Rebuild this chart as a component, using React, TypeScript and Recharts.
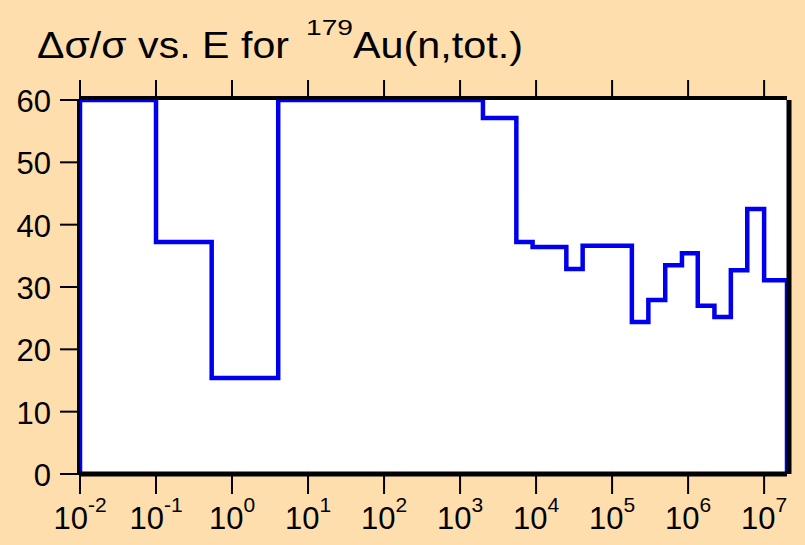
import { LineChart, Line, XAxis, YAxis, CartesianGrid } from "recharts"

// bin edges (eV) and relative uncertainty (%)
const energies = [
  0.01, 0.01, 0.1, 0.54, 4.05, 2000, 3250, 5500, 9000, 14500, 25000, 41000, 70000, 110000,
  182000, 300000, 500000, 830000, 1340000, 2220000, 3650000, 6000000, 10000000, 20000000,
]
const values = [
  0, 60, 37.2, 15.4, 60, 57.1, 57.1, 37.2, 36.4, 36.4, 32.9, 36.6, 36.6, 36.6,
  24.4, 27.9, 33.5, 35.4, 27.0, 25.2, 32.7, 42.5, 31.1, 0,
]
const xTicks = [1e-2, 1e-1, 1e0, 1e1, 1e2, 1e3, 1e4, 1e5, 1e6, 1e7]
const yTicks = [0, 10, 20, 30, 40, 50, 60]

const data = energies.map((e, i) => ({ e, v: values[i] }))

const FONT = "'Liberation Sans', Arial, Helvetica, sans-serif"
const BG = "#FFDEAD"

function XTick({ x, payload }: any) {
  const exp = Math.round(Math.log10(payload.value))
  return (
    <text x={x} y={529} textAnchor="middle" fontSize={31} fontFamily={FONT} fill="#000">
      10
      <tspan dy={-17} fontSize={21}>
        {exp}
      </tspan>
    </text>
  )
}

function YTick({ y, payload }: any) {
  return (
    <text x={51} y={y + 12} textAnchor="end" fontSize={31} fontFamily={FONT} fill="#000">
      {payload.value}
    </text>
  )
}

const noLabel = () => <g />
const tickStyle = { stroke: "#000", strokeWidth: 2 }

export default function App() {
  return (
    <div style={{ position: "relative", width: 805, height: 545, background: BG }}>
      <style>{`body{margin:0}`}</style>
      <LineChart width={805} height={545} data={data} margin={{ top: 0, right: 0, bottom: 0, left: 0 }}>
        <CartesianGrid horizontal={false} vertical={false} fill="#ffffff" fillOpacity={1} stroke="none" />
        <XAxis
          dataKey="e"
          type="number"
          scale="log"
          domain={[0.01, 2e7]}
          allowDataOverflow
          ticks={xTicks}
          interval={0}
          height={71}
          tickSize={20}
          tick={<XTick />}
          axisLine={{ stroke: "#000", strokeWidth: 5 }}
          tickLine={tickStyle}
        />
        <XAxis
          xAxisId="top"
          orientation="top"
          dataKey="e"
          type="number"
          scale="log"
          domain={[0.01, 2e7]}
          allowDataOverflow
          ticks={xTicks}
          interval={0}
          height={100}
          tickSize={20}
          tick={noLabel}
          axisLine={{ stroke: "#000", strokeWidth: 4, transform: "translate(0,-2)" }}
          tickLine={tickStyle}
        />
        <YAxis
          type="number"
          domain={[0, 60]}
          ticks={yTicks}
          interval={0}
          width={80}
          tickSize={20}
          tick={<YTick />}
          axisLine={{ stroke: "#000", strokeWidth: 3, transform: "translate(-1.5,0)" }}
          tickLine={tickStyle}
        />
        <YAxis
          yAxisId="right"
          orientation="right"
          type="number"
          domain={[0, 60]}
          ticks={yTicks}
          interval={0}
          width={18}
          tickSize={20}
          tick={noLabel}
          axisLine={{ stroke: "#000", strokeWidth: 5, transform: "translate(2,0)" }}
          tickLine={tickStyle}
        />
        <Line
          type="stepAfter"
          dataKey="v"
          stroke="#0000ee"
          strokeWidth={4.5}
          dot={false}
          activeDot={false}
          isAnimationActive={false}
        />
      </LineChart>
      <svg width={805} height={100} style={{ position: "absolute", left: 0, top: 0, pointerEvents: "none" }}>
        <g fontFamily={FONT} fill="#000">
          <text x={37} y={58} fontSize={37} textLength={252} lengthAdjust="spacingAndGlyphs">
            Δσ/σ vs. E for
          </text>
          <text x={306} y={35} fontSize={22} textLength={47} lengthAdjust="spacingAndGlyphs">
            179
          </text>
          <text x={353} y={58} fontSize={37} textLength={170} lengthAdjust="spacingAndGlyphs">
            Au(n,tot.)
          </text>
        </g>
      </svg>
    </div>
  )
}
